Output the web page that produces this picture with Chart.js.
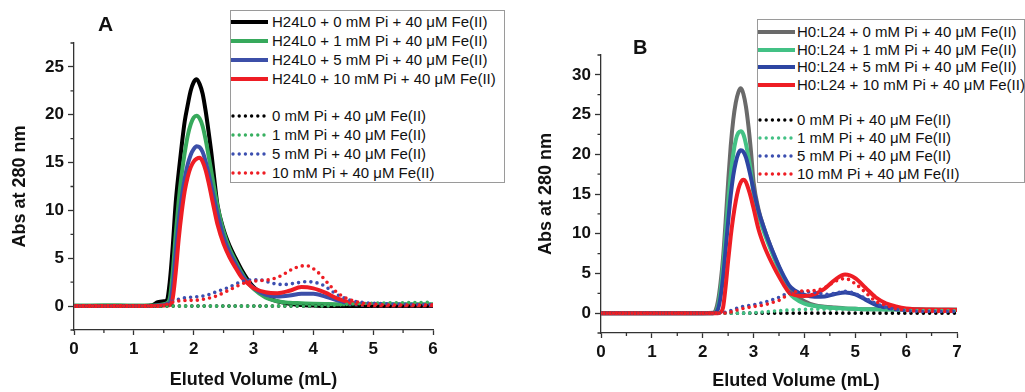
<!DOCTYPE html>
<html>
<head>
<meta charset="utf-8">
<script src="https://cdn.jsdelivr.net/npm/chart.js@4.4.1/dist/chart.umd.min.js"></script>
<style>
  body { margin: 0; background: #fff; }
  #wrap { position: relative; width: 1025px; height: 392px; overflow: hidden; font-family: Arial, "Liberation Sans", sans-serif; color: #111; }
  .panel { position: absolute; top: 0; }
  .tag { position: absolute; font-weight: bold; font-size: 21px; }
  .legend { position: absolute; border: 1px solid #9a9a9a; background: #fff; box-sizing: border-box; }
  .row { position: absolute; left: 0; height: 18px; white-space: nowrap; font-size: 15px; line-height: 18px; }
  .row svg { position: absolute; top: 0; }
  .row span { position: absolute; top: 0; }
</style>
</head>
<body>
<div id="wrap">
  <canvas id="chartA" class="panel" width="512" height="392" style="left:0"></canvas>
  <canvas id="chartB" class="panel" width="513" height="392" style="left:512px"></canvas>
  <div class="tag" style="left:98px;top:12px">A</div>
  <div class="tag" style="left:633px;top:36px;font-size:20px">B</div>
  <div class="legend" id="legendA" style="left:230px;top:10px;width:275px;height:173px"></div>
  <div class="legend" id="legendB" style="left:757px;top:19px;width:268px;height:164px"></div>
</div>
<script>
// ---- panel A data (H24L0) ----
const volA = [0, 0.5, 1.0, 1.3, 1.4, 1.5, 1.55, 1.6, 1.65, 1.7, 1.75, 1.8, 1.85, 1.9, 1.95, 2.0, 2.05, 2.1, 2.15, 2.2, 2.25, 2.3, 2.35, 2.4, 2.5, 2.6, 2.7, 2.8, 2.9, 3.0, 3.2, 3.4, 3.6, 3.8, 4.0, 4.2, 4.4, 4.6, 4.8, 5.0, 5.5, 6.0]
const absA_0Pi  = [0, 0, 0, 0.1, 0.4, 0.5, 0.6, 2.5, 6.2, 10.8, 14.0, 16.8, 19.3, 21.0, 22.5, 23.4, 23.7, 23.2, 22.2, 20.4, 18.2, 15.8, 13.0, 10.5, 8.0, 6.3, 5.0, 3.8, 2.8, 2.0, 1.0, 0.5, 0.25, 0.1, 0.05, 0, 0, 0, 0, 0, 0, 0]
const absA_1Pi  = [0.05, 0.1, 0.05, 0.05, 0.1, 0.2, 0.3, 0.8, 3.5, 7.5, 11.0, 13.8, 16.0, 17.8, 19.0, 19.7, 19.9, 19.6, 18.8, 17.4, 15.7, 13.9, 12.1, 10.4, 7.8, 6.0, 4.7, 3.5, 2.5, 1.8, 0.9, 0.5, 0.35, 0.3, 0.25, 0.22, 0.2, 0.2, 0.2, 0.2, 0.2, 0.2]
const absA_5Pi  = [0, 0, 0, 0, 0.05, 0.1, 0.15, 0.3, 2.0, 5.5, 8.8, 11.3, 13.3, 14.8, 15.8, 16.4, 16.7, 16.6, 16.1, 15.1, 13.8, 12.4, 11.0, 9.6, 7.2, 5.6, 4.4, 3.3, 2.5, 1.9, 1.2, 1.0, 1.1, 1.3, 1.3, 1.0, 0.6, 0.3, 0.15, 0.1, 0.1, 0.1]
const absA_10Pi = [0, 0, 0, 0, 0, 0.05, 0.1, 0.1, 0.8, 3.5, 7.0, 9.8, 12.0, 13.5, 14.5, 15.1, 15.4, 15.5, 15.1, 14.2, 12.9, 11.4, 9.9, 8.5, 6.5, 5.1, 4.0, 3.0, 2.4, 1.9, 1.45, 1.35, 1.6, 2.0, 1.85, 1.4, 0.8, 0.4, 0.2, 0.1, 0.1, 0.1]

// ---- panel A data (no protein) ----
const volDotA = [0, 0.5, 1.0, 1.4, 1.5, 1.6, 1.7, 1.8, 1.9, 2.0, 2.1, 2.2, 2.3, 2.4, 2.5, 2.6, 2.7, 2.8, 2.9, 3.0, 3.1, 3.2, 3.3, 3.4, 3.5, 3.6, 3.7, 3.8, 3.9, 4.0, 4.1, 4.2, 4.3, 4.4, 4.5, 4.6, 4.8, 5.0, 5.5, 6.0]
const dotA_0Pi  = [0, 0, 0, 0, 0, 0, 0, 0, 0, 0, 0, 0, 0, 0, 0, 0, 0, 0, 0, 0, 0, 0, 0, 0, 0, 0, 0, 0, 0, 0, 0, 0, 0, 0, 0, 0, 0, 0, 0, 0]
const dotA_1Pi  = [0, 0, 0, 0, 0, 0, 0, 0, 0, 0, 0, 0, 0, 0, 0, 0, 0, 0, 0, 0, 0, 0, 0, 0, 0, 0, 0, 0, 0, 0, 0, 0, 0.05, 0.1, 0.15, 0.2, 0.25, 0.3, 0.35, 0.4]
const dotA_5Pi  = [0, 0, 0, 0.05, 0.15, 0.4, 0.6, 0.8, 0.9, 0.95, 1.0, 1.1, 1.3, 1.55, 1.75, 2.0, 2.3, 2.55, 2.7, 2.75, 2.75, 2.6, 2.4, 2.3, 2.25, 2.3, 2.4, 2.5, 2.55, 2.5, 2.35, 2.05, 1.6, 1.2, 0.9, 0.65, 0.4, 0.3, 0.2, 0.15]
const dotA_10Pi = [0, 0, 0, 0.05, 0.1, 0.3, 0.5, 0.55, 0.6, 0.6, 0.65, 0.75, 0.9, 1.1, 1.4, 1.7, 2.0, 2.3, 2.5, 2.6, 2.65, 2.7, 2.8, 3.0, 3.3, 3.7, 4.0, 4.2, 4.2, 3.9, 3.4, 2.7, 2.0, 1.4, 1.0, 0.7, 0.35, 0.2, 0.1, 0.1]

// ---- panel B data (H0:L24) ----
const volB = [0, 1, 2.0, 2.2, 2.25, 2.3, 2.35, 2.4, 2.45, 2.5, 2.55, 2.6, 2.65, 2.7, 2.75, 2.8, 2.85, 2.9, 2.95, 3.0, 3.1, 3.2, 3.3, 3.4, 3.5, 3.6, 3.7, 3.8, 4.0, 4.2, 4.4, 4.6, 4.8, 5.0, 5.2, 5.4, 5.6, 5.8, 6.0, 6.5, 7.0]
const absB_0Pi  = [0, 0, 0, 0.05, 0.3, 1.5, 3.8, 7.0, 11.5, 16.5, 21.0, 24.3, 26.5, 27.8, 28.3, 27.6, 26.0, 23.5, 20.3, 16.5, 13.0, 10.8, 9.0, 7.3, 5.8, 4.4, 3.2, 2.4, 1.5, 1.0, 0.8, 0.7, 0.6, 0.55, 0.5, 0.5, 0.5, 0.5, 0.5, 0.45, 0.45]
const absB_1Pi  = [0, 0, 0, 0, 0.1, 0.8, 2.8, 5.8, 9.8, 13.8, 17.3, 20.0, 21.8, 22.7, 22.9, 22.5, 21.3, 19.6, 17.6, 15.0, 12.3, 10.3, 8.6, 7.0, 5.5, 4.0, 2.6, 1.9, 1.2, 0.9, 0.75, 0.65, 0.6, 0.55, 0.5, 0.5, 0.45, 0.45, 0.45, 0.4, 0.4]
const absB_5Pi  = [0, 0, 0, 0, 0.05, 0.5, 2.0, 4.5, 8.0, 11.5, 14.8, 17.3, 19.0, 20.1, 20.5, 20.3, 19.6, 18.4, 17.0, 15.5, 12.8, 10.8, 9.0, 7.4, 5.9, 4.6, 3.5, 2.9, 2.3, 2.05, 2.1, 2.4, 2.6, 2.35, 1.7, 1.05, 0.7, 0.5, 0.45, 0.4, 0.4]
const absB_10Pi = [0, 0, 0, 0, 0, 0, 0.1, 0.7, 3.3, 6.6, 9.6, 12.1, 14.1, 15.6, 16.5, 16.8, 16.5, 15.6, 14.5, 13.2, 10.5, 8.6, 7.1, 5.8, 4.6, 3.5, 2.6, 2.3, 2.15, 2.4, 3.1, 4.2, 4.85, 4.4, 3.2, 2.0, 1.25, 0.85, 0.6, 0.45, 0.4]

// ---- panel B data (no protein) ----
const volDotB = [0, 1, 2.0, 2.3, 2.4, 2.5, 2.6, 2.7, 2.8, 2.9, 3.0, 3.1, 3.2, 3.3, 3.4, 3.5, 3.6, 3.7, 3.8, 3.9, 4.0, 4.2, 4.4, 4.6, 4.8, 5.0, 5.2, 5.4, 5.6, 5.8, 6.0, 6.5, 7.0]
const dotB_0Pi  = [0, 0, 0, 0, 0, 0, 0, 0, 0, 0, 0, 0, 0, 0, 0, 0, 0, 0, 0, 0, 0, 0, 0, 0, 0, 0, 0, 0, 0, 0, 0, 0, 0]
const dotB_1Pi  = [0, 0, 0, 0, 0, 0, 0, 0, 0, 0, 0.05, 0.1, 0.15, 0.2, 0.25, 0.3, 0.35, 0.4, 0.42, 0.45, 0.47, 0.5, 0.5, 0.5, 0.5, 0.48, 0.45, 0.42, 0.4, 0.38, 0.35, 0.32, 0.3]
const dotB_5Pi  = [0, 0, 0, 0, 0.05, 0.2, 0.45, 0.7, 0.85, 0.95, 1.05, 1.2, 1.35, 1.55, 1.75, 2.0, 2.3, 2.5, 2.62, 2.66, 2.66, 2.62, 2.35, 2.5, 2.75, 2.45, 1.85, 1.25, 0.75, 0.45, 0.3, 0.2, 0.2]
const dotB_10Pi = [0, 0, 0, 0, 0, 0.05, 0.25, 0.45, 0.6, 0.72, 0.82, 0.92, 1.0, 1.2, 1.4, 1.6, 2.0, 2.4, 2.65, 2.75, 2.8, 2.85, 3.2, 4.0, 4.35, 3.7, 2.6, 1.5, 1.0, 0.55, 0.35, 0.2, 0.2]

// ---- axes / labels ----
const xTicksA = [0, 1, 2, 3, 4, 5, 6]
const yTicksA = [0, 5, 10, 15, 20, 25]
const xTicksB = [0, 1, 2, 3, 4, 5, 6, 7]
const yTicksB = [0, 5, 10, 15, 20, 25, 30]
const labelsA = ['H24L0 + 0 mM Pi + 40 μM Fe(II)', 'H24L0 + 1 mM Pi + 40 μM Fe(II)', 'H24L0 + 5 mM Pi + 40 μM Fe(II)', 'H24L0 + 10 mM Pi + 40 μM Fe(II)']
const labelsB = ['H0:L24 + 0 mM Pi + 40 μM Fe(II)', 'H0:L24 + 1 mM Pi + 40 μM Fe(II)', 'H0:L24 + 5 mM Pi + 40 μM Fe(II)', 'H0:L24 + 10 mM Pi + 40 μM Fe(II)']
const labelsDot = ['0 mM Pi + 40 μM Fe(II)', '1 mM Pi + 40 μM Fe(II)', '5 mM Pi + 40 μM Fe(II)', '10 mM Pi + 40 μM Fe(II)']
const xTitle = 'Eluted Volume (mL)'
const yTitle = 'Abs at 280 nm'

const colorsA = ['#000000', '#37a95c', '#3c4fa8', '#ee1d24']
const colorsB = ['#6a6a6a', '#43c185', '#2d45a2', '#ee1d24']
const dotColors = ['#000000', '#37b060', '#3c4fb0', '#ee1d24']
const axisColor = '#333333'
const fontFamily = 'Arial, "Liberation Sans", sans-serif'

function pts(xs, ys) {
    return xs.map((x, i) => ({ x: x, y: ys[i] }))
}

function solidSet(label, xs, ys, color, order) {
    return {
        label: label, data: pts(xs, ys), borderColor: color, backgroundColor: color,
        borderWidth: 4, pointRadius: 0, tension: 0.4, cubicInterpolationMode: 'monotone',
        fill: false, order: order
    }
}

function dotSet(label, xs, ys, color, order) {
    let d = solidSet(label, xs, ys, color, order)
    d.borderWidth = 3.6
    d.borderDash = [0, 6.2]
    d.borderCapStyle = 'round'
    return d
}

// short ticks half way between the labelled ones
function midpoints(ticks, min, max) {
    const step = ticks[1] - ticks[0]
    let out = []
    for (let v = ticks[0] - step / 2; v <= max + 1e-9; v += step) {
        if (v >= min - 1e-9) out.push(v)
    }
    return out
}

const minorTicks = {
    id: 'minorTicks',
    afterDraw(chart, args, opts) {
        const ctx = chart.ctx, a = chart.chartArea
        const sx = chart.scales.x, sy = chart.scales.y
        ctx.save()
        ctx.strokeStyle = axisColor
        ctx.lineWidth = 1.3
        ctx.beginPath()
        midpoints(opts.xTicks, sx.min, sx.max).forEach(v => {
            const px = sx.getPixelForValue(v)
            ctx.moveTo(px, a.bottom)
            ctx.lineTo(px, a.bottom + 3)
        })
        midpoints(opts.yTicks, sy.min, sy.max).forEach(v => {
            const py = sy.getPixelForValue(v)
            ctx.moveTo(a.left, py)
            ctx.lineTo(a.left - 3.5, py)
        })
        ctx.stroke()
        // x title, nudged sideways like in the figure
        ctx.fillStyle = '#111'
        ctx.font = 'bold 18px ' + fontFamily
        ctx.textAlign = 'center'
        ctx.textBaseline = 'middle'
        ctx.fillText(xTitle, (a.left + a.right) / 2 + opts.titleShift, opts.titleY)
        ctx.restore()
    }
}

function makeChart(id, cfg) {
    const tickFont = { family: fontFamily, size: 17, weight: 'bold' }
    const titleFont = { family: fontFamily, size: 18, weight: 'bold' }
    return new Chart(document.getElementById(id), {
        type: 'line',
        data: { datasets: cfg.datasets },
        options: {
            responsive: false,
            animation: false,
            devicePixelRatio: 1,
            layout: { padding: { left: 0, top: cfg.padTop, right: cfg.padRight, bottom: 0 } },
            plugins: {
                legend: { display: false },
                tooltip: { enabled: false },
                minorTicks: { xTicks: cfg.xTicks, yTicks: cfg.yTicks, titleShift: cfg.titleShift, titleY: cfg.titleY }
            },
            scales: {
                x: {
                    type: 'linear', min: 0, max: cfg.xMax,
                    afterBuildTicks: s => { s.ticks = cfg.xTicks.map(v => ({ value: v })) },
                    afterFit: s => { s.height = cfg.xHeight },
                    ticks: { font: tickFont, color: '#111', padding: 4, maxRotation: 0, autoSkip: false },
                    grid: { drawOnChartArea: false, tickLength: 5, tickColor: axisColor, tickWidth: 1.3 },
                    border: { color: axisColor, width: 1.3 }
                },
                y: {
                    type: 'linear', min: -2.5, max: cfg.yMax,
                    afterBuildTicks: s => { s.ticks = cfg.yTicks.map(v => ({ value: v })) },
                    afterFit: s => { s.width = cfg.yWidth },
                    ticks: { font: tickFont, color: '#111', padding: 4 },
                    grid: { drawOnChartArea: false, tickLength: 6, tickColor: axisColor, tickWidth: 1.3 },
                    border: { color: axisColor, width: 1.3 },
                    title: { display: true, text: yTitle, font: titleFont, color: '#111', padding: { top: cfg.yTitlePad, bottom: 0 } }
                }
            }
        },
        plugins: [minorTicks]
    })
}

const chartA = makeChart('chartA', {
    datasets: [
        dotSet(labelsDot[3], volDotA, dotA_10Pi, dotColors[3], 1),
        dotSet(labelsDot[2], volDotA, dotA_5Pi, dotColors[2], 2),
        dotSet(labelsDot[1], volDotA, dotA_1Pi, dotColors[1], 3),
        dotSet(labelsDot[0], volDotA, dotA_0Pi, dotColors[0], 4),
        solidSet(labelsA[3], volA, absA_10Pi, colorsA[3], 5),
        solidSet(labelsA[2], volA, absA_5Pi, colorsA[2], 6),
        solidSet(labelsA[1], volA, absA_1Pi, colorsA[1], 7),
        solidSet(labelsA[0], volA, absA_0Pi, colorsA[0], 8)
    ],
    xMax: 6, yMax: 27.5, xTicks: xTicksA, yTicks: yTicksA,
    padTop: 43, padRight: 79, yWidth: 74, xHeight: 62, yTitlePad: 9,
    titleShift: 0, titleY: 380
})

const chartB = makeChart('chartB', {
    datasets: [
        dotSet(labelsDot[3], volDotB, dotB_10Pi, dotColors[3], 1),
        dotSet(labelsDot[2], volDotB, dotB_5Pi, dotColors[2], 2),
        dotSet(labelsDot[1], volDotB, dotB_1Pi, colorsB[1], 3),
        dotSet(labelsDot[0], volDotB, dotB_0Pi, dotColors[0], 4),
        solidSet(labelsB[3], volB, absB_10Pi, colorsB[3], 5),
        solidSet(labelsB[2], volB, absB_5Pi, colorsB[2], 6),
        solidSet(labelsB[1], volB, absB_1Pi, colorsB[1], 7),
        solidSet(labelsB[0], volB, absB_0Pi, colorsB[0], 8)
    ],
    xMax: 7, yMax: 32.5, xTicks: xTicksB, yTicks: yTicksB,
    padTop: 55, padRight: 68, yWidth: 89, xHeight: 59, yTitlePad: 23,
    titleShift: 17, titleY: 381
})

// html legend, same look as the boxed legend in the figure
function buildLegend(boxId, chart, rowTops, textLeft) {
    const box = document.getElementById(boxId)
    // solids first, then dotted
    const sets = chart.data.datasets.slice().sort((p, q) => q.order - p.order)
    const solids = sets.filter(d => !d.borderDash)
    const dots = sets.filter(d => d.borderDash)
    solids.concat(dots).forEach((d, i) => {
        const row = document.createElement('div')
        row.className = 'row'
        row.style.top = (rowTops[i] - 9) + 'px'
        row.style.width = '100%'
        const dashed = !!d.borderDash
        const w = dashed ? 3.4 : 4
        row.innerHTML =
            '<svg width="40" height="18" style="left:0">' +
            '<line x1="' + (dashed ? 2 : 0) + '" y1="9" x2="37" y2="9" stroke="' + d.borderColor + '" stroke-width="' + w + '"' +
            (dashed ? ' stroke-dasharray="0 6.2" stroke-linecap="round"' : '') + '/></svg>' +
            '<span style="left:' + textLeft + 'px">' + d.label + '</span>'
        box.appendChild(row)
    })
}

buildLegend('legendA', chartA, [11, 30, 49, 68, 105, 124, 143, 162], 41)
buildLegend('legendB', chartB, [12, 29.5, 47, 64.5, 99.5, 117.5, 135.5, 153.5], 39)
</script>
</body>
</html>
